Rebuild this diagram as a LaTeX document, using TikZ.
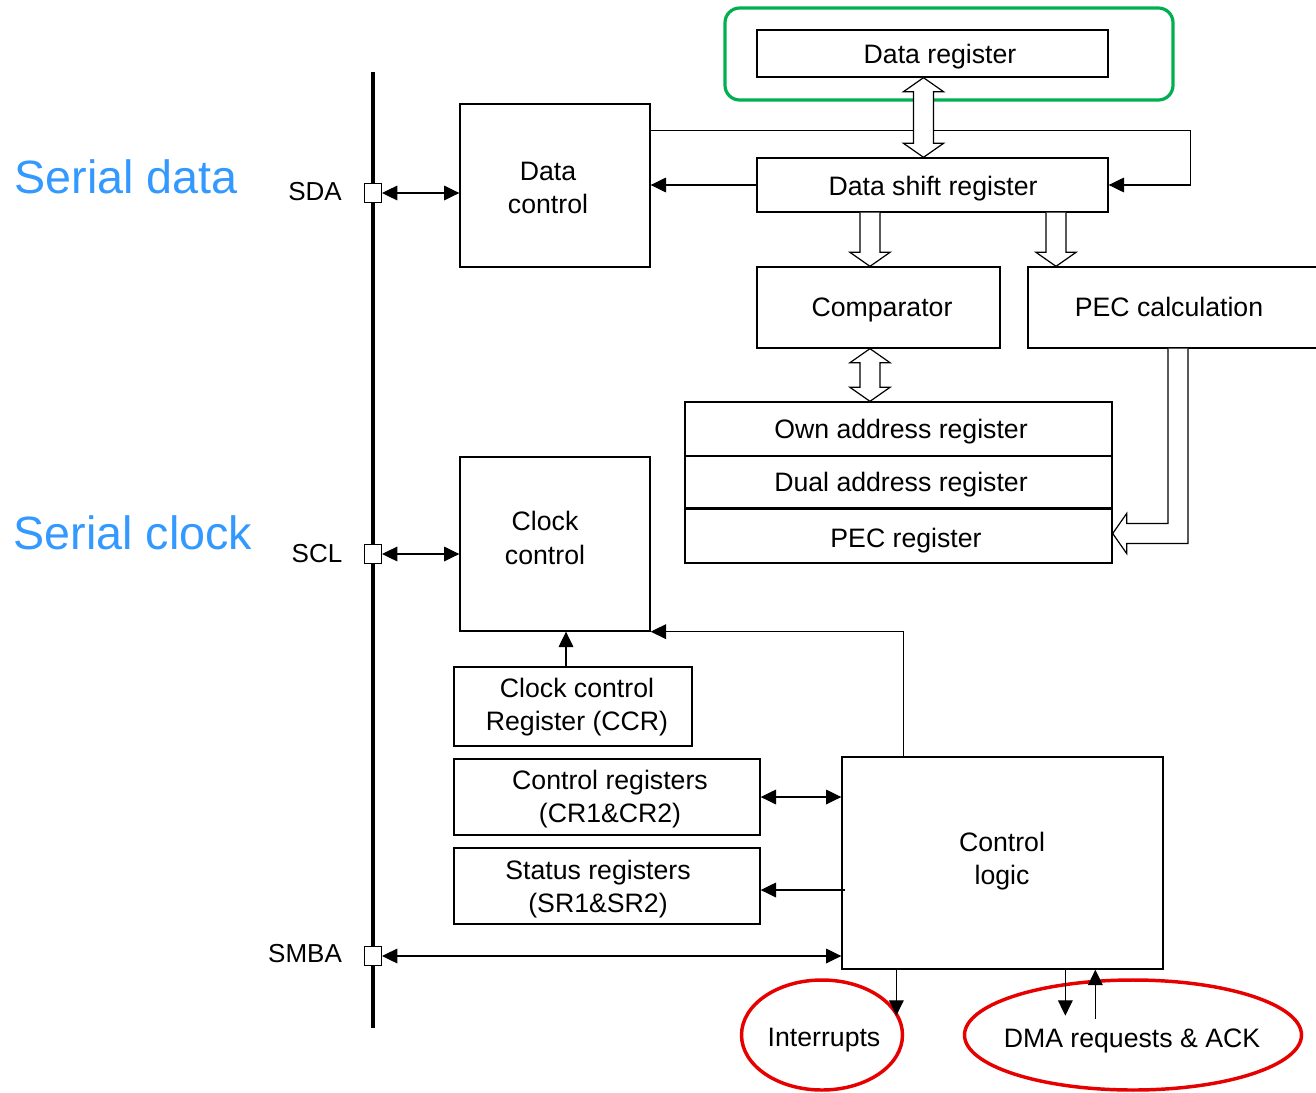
\documentclass[tikz,border=0pt]{standalone}
\usepackage{fontspec}
\setmainfont{Liberation Sans}
\usetikzlibrary{arrows.meta,calc,shapes.geometric}
\definecolor{serialblue}{RGB}{51,153,255}
\definecolor{boxgreen}{RGB}{0,176,80}
\definecolor{markred}{RGB}{230,0,0}
\tikzset{
  tri/.tip={Triangle[length=11.5pt,width=11pt]},
  box/.style={draw, line width=1pt, inner sep=0pt, align=center, font=\fontsize{20}{25}\selectfont},
  txt/.style={inner sep=0pt, align=center, yshift=-2.25pt, font=\fontsize{20}{25}\selectfont},
  pin/.style={draw, fill=white, line width=1pt, minimum width=12.5pt, minimum height=14pt, inner sep=0pt},
  pinlabel/.style={yshift=-1.5pt, font=\fontsize{19.5}{23}\selectfont},
  big/.style={text=serialblue, font=\fontsize{35}{40}\selectfont},
  conn/.style={line width=0.9pt},
  hollow/.style={draw, fill=white, line width=0.9pt, line join=miter},
  redmark/.style={draw=markred, line width=2.6pt, ellipse, inner sep=0pt}
}
% \mybox{name}{x1}{y1}{x2}{y2}{text}  (pixel corners)
\newcommand\mybox[6]{%
  \node[box, minimum width={(#4-#2)*0.75pt}, minimum height={(#5-#3)*0.75pt}] (#1) at ({(#2+#4)/2},{(#3+#5)/2}) {#6};}
\begin{document}
\begin{tikzpicture}[x=0.75pt,y=-0.75pt]
\useasboundingbox (0,0) rectangle (1316,1092);
\begin{scope}
\clip (0,0) rectangle (1316,1092);

% bus
\draw[line width=3pt] (373,72) -- (373,1028);
\node[pin] (sda) at (373,193) {};
\node[pin] (scl) at (373,554) {};
\node[pin] (smba) at (373,956) {};
\node[pinlabel] (sdal) at (315,190) {SDA};
\node[pinlabel] (scll) at (317,552) {SCL};
\node[pinlabel] (smbal) at (305,952) {SMBA};
\node[big] (sdat) at (126,177) {Serial data};
\node[big] (sclk) at (133,533) {Serial clock};

% boxes
\mybox{dctl}{460}{104}{650}{267}{}
\node[txt] (dctlt) at (548,185) {Data\\control};
\mybox{dreg}{757}{30}{1108}{77}{}
\node[txt] (dregt) at (940,54) {Data register};
\mybox{dsr}{757}{158}{1108}{212}{}
\node[txt] (dsrt) at (933,186) {Data shift register};
\mybox{cmp}{757}{267}{1000}{348}{}
\node[txt] (cmpt) at (882,307) {Comparator};
\mybox{pecc}{1028}{267}{1330}{348}{}
\node[txt] (pecct) at (1169,304) {PEC calculation};
\mybox{own}{685}{402}{1112}{456}{}
\node[txt] (ownt) at (901,429) {Own address register};
\mybox{dual}{685}{456}{1112}{508}{}
\node[txt] (dualt) at (901,482) {Dual address register};
\mybox{pecr}{685}{508}{1112}{563}{}
\node[txt] (pecrt) at (906,538) {PEC register};
\draw[line width=2pt] (dual.south west) -- (dual.south east);
\mybox{cctl}{460}{457}{650}{631}{}
\node[txt] (cctlt) at (545,535) {Clock\\control};
\mybox{ccr}{454}{667}{692}{746}{}
\node[txt] (ccrt) at (577,704) {Clock control\\ Register (CCR)};
\mybox{creg}{454}{759}{760}{835}{}
\node[txt] (cregt) at (610,796) {Control registers\\(CR1\&CR2)};
\mybox{sreg}{454}{848}{760}{924}{}
\node[txt] (sregt) at (598,886) {Status registers\\(SR1\&SR2)};
\mybox{cl}{842}{757}{1163}{969}{}
\node[txt] (clt) at (1002,858) {Control\\logic};

% green highlight
\draw[boxgreen, line width=2.4pt, rounded corners=11pt] (725,8) rectangle (1173,100);

% pin connectors
\draw[conn, tri-tri] (sda.east) -- (sda.east -| dctl.west);
\draw[conn, tri-tri] (scl.east) -- (scl.east -| cctl.west);
\draw[conn, tri-tri] (smba.east) -- (smba.east -| cl.west);

% data path
\draw[conn, -tri] ([yshift=-20.25pt]dctl.north east) -- ++(405pt,0) |- (dsr.east);
\draw[conn, -tri] (dsr.west) -- (dsr.west -| dctl.east);

% hollow double arrow data register <-> data shift register
\path[hollow] let \p1=([xshift=-6.75pt]dreg.south), \p2=(dsr.north) in
  (\x1,\y1) -- (\x1+15pt,\y1-10.5pt) -- (\x1+7.5pt,\y1-10.5pt) -- (\x1+7.5pt,\y2+10.5pt)
  -- (\x1+15pt,\y2+10.5pt) -- (\x1,\y2) -- (\x1-15pt,\y2+10.5pt) -- (\x1-7.5pt,\y2+10.5pt)
  -- (\x1-7.5pt,\y1-10.5pt) -- (\x1-15pt,\y1-10.5pt) -- cycle;

% hollow down arrows from data shift register
\path[hollow] let \p1=(dsr.south), \p2=([xshift=-6.4pt]cmp.north) in
  (\x2-7.5pt,\y1) -- (\x2-7.5pt,\y2+10.5pt) -- (\x2-15pt,\y2+10.5pt) -- (\x2,\y2)
  -- (\x2+15pt,\y2+10.5pt) -- (\x2+7.5pt,\y2+10.5pt) -- (\x2+7.5pt,\y1);
\path[hollow] let \p1=(dsr.south), \p2=([xshift=-92.25pt]pecc.north) in
  (\x2-7.5pt,\y1) -- (\x2-7.5pt,\y2+10.5pt) -- (\x2-15pt,\y2+10.5pt) -- (\x2,\y2)
  -- (\x2+15pt,\y2+10.5pt) -- (\x2+7.5pt,\y2+10.5pt) -- (\x2+7.5pt,\y1);

% hollow double arrow comparator <-> own address register
\path[hollow] let \p1=([xshift=-6.4pt]cmp.south), \p2=(own.north) in
  (\x1,\y1) -- (\x1+15pt,\y1-10.5pt) -- (\x1+7.5pt,\y1-10.5pt) -- (\x1+7.5pt,\y2+10.5pt)
  -- (\x1+15pt,\y2+10.5pt) -- (\x1,\y2) -- (\x1-15pt,\y2+10.5pt) -- (\x1-7.5pt,\y2+10.5pt)
  -- (\x1-7.5pt,\y1-10.5pt) -- (\x1-15pt,\y1-10.5pt) -- cycle;

% hollow L arrow PEC calculation -> PEC register
\path[hollow] let \p1=([xshift=-8.25pt]pecc.south), \p2=([yshift=1.5pt]pecr.east) in
  (\x1,\y1) -- (\x1,\y2+7.5pt) -- (\x2+10.5pt,\y2+7.5pt) -- (\x2+10.5pt,\y2+15pt)
  -- (\x2,\y2) -- (\x2+10.5pt,\y2-15pt) -- (\x2+10.5pt,\y2-7.5pt) -- (\x1+15pt,\y2-7.5pt)
  -- (\x1+15pt,\y1);

% clock path
\draw[conn, -tri] ([xshift=-5.25pt]ccr.north) -- ([xshift=-5.25pt]ccr.north |- cctl.south);
\draw[conn, -tri] ([xshift=46.5pt]cl.north west) |- (cctl.south east);

% control logic connectors
\draw[conn, tri-tri] (creg.east) -- (creg.east -| cl.west);
\draw[conn, -tri] ([xshift=3pt,yshift=-3pt]sreg.east -| cl.west) -- ([yshift=-3pt]sreg.east);

% outputs
\node[redmark, minimum width=120.75pt, minimum height=82.5pt] (intr) at (822,1035) {};
\node[txt] (intrt) at (824,1037) {Interrupts};
\node[redmark, minimum width=252.75pt, minimum height=82.5pt] (dma) at (1133,1035) {};
\node[txt] (dmat) at (1132,1038) {DMA requests \& ACK};
\draw[conn, -tri] ([xshift=41.25pt]cl.south west) -- ++(0,-34.5pt);
\draw[conn, -tri] ([xshift=168pt]cl.south west) -- ++(0,-34.5pt);
\draw[conn, -tri] ([xshift=190.5pt,yshift=-36.75pt]cl.south west) -- ([xshift=190.5pt]cl.south west);
\end{scope}
\end{tikzpicture}
\end{document}
